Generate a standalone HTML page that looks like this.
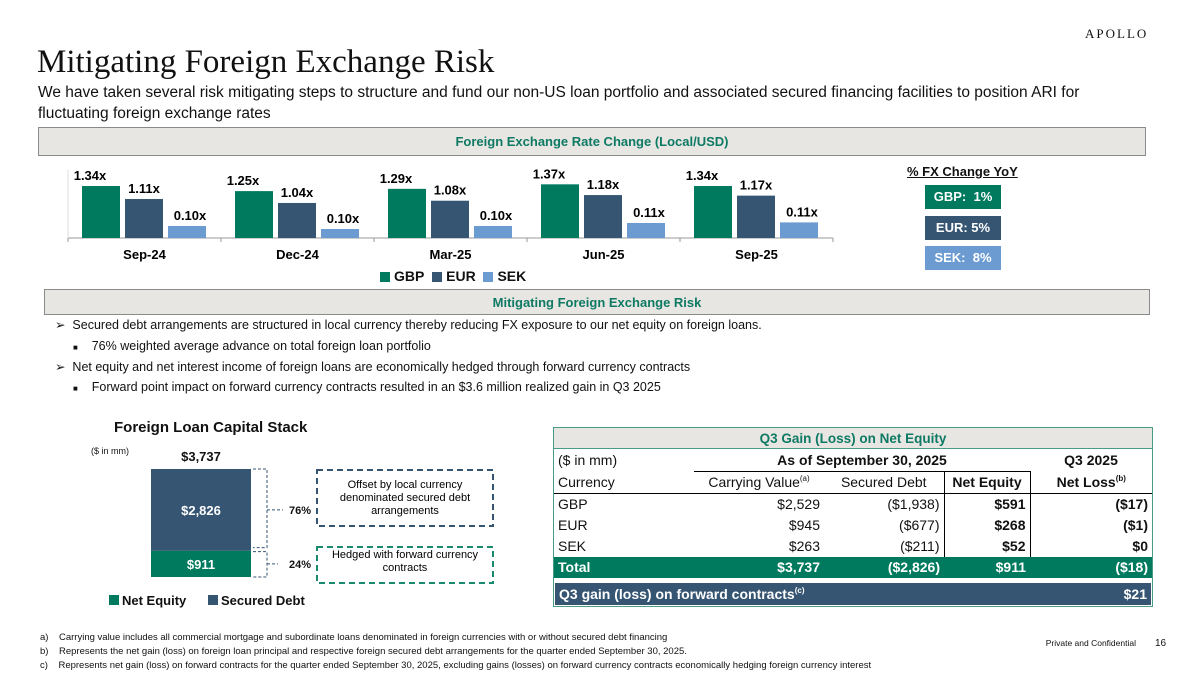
<!DOCTYPE html>
<html><head><meta charset="utf-8">
<style>
*{margin:0;padding:0;box-sizing:border-box}
body{width:1200px;height:675px;background:#fff;position:relative;overflow:hidden;font-family:"Liberation Sans",sans-serif;color:#111}
.a{position:absolute;white-space:nowrap}
.b{font-weight:bold}
.hdr{position:absolute;background:#e8e6e3;border:1px solid #8a8a8a;color:#0e7a63;font-weight:bold;font-size:13px;text-align:center}
.pill{position:absolute;width:76px;height:24px;color:#fff;font-weight:bold;font-size:13px;text-align:center;line-height:24px}
.sq{display:inline-block;width:10px;height:10px;vertical-align:-1px;margin-right:4px}
td{font-size:14px;padding:0 4px;height:21px;line-height:21px}
sup{font-size:8px;line-height:0;vertical-align:6px}
</style></head><body>
<div class="a" style="left:1085px;top:26px;font-family:'Liberation Serif',serif;font-size:13px;letter-spacing:2px">APOLLO</div>
<div class="a" style="left:37px;top:44px;font-family:'Liberation Serif',serif;font-size:33px">Mitigating Foreign Exchange Risk</div>
<div class="a" style="left:38px;top:82px;font-size:15.5px;line-height:21px;white-space:normal;width:1070px">We have taken several risk mitigating steps to structure and fund our non-US loan portfolio and associated secured financing facilities to position ARI for fluctuating foreign exchange rates</div>
<div class="hdr" style="left:38px;top:127px;width:1108px;height:29px;line-height:27px">Foreign Exchange Rate Change (Local/USD)</div>

<svg class="a" style="left:0;top:0" width="900" height="290" id="fx"></svg>

<div class="a b" style="left:907px;top:164px;font-size:13px;text-decoration:underline">% FX Change YoY</div>
<div class="pill" style="left:925px;top:185px;background:#007a5e">GBP:&nbsp; 1%</div>
<div class="pill" style="left:925px;top:216px;background:#365573">EUR: 5%</div>
<div class="pill" style="left:925px;top:246px;background:#6b9bd1">SEK:&nbsp; 8%</div>

<div class="a b" style="left:380px;top:268px;font-size:14px"><span class="sq" style="background:#007a5e"></span>GBP&nbsp;&nbsp;<span class="sq" style="background:#365573"></span>EUR&nbsp;&nbsp;<span class="sq" style="background:#6b9bd1"></span>SEK</div>

<div class="hdr" style="left:44px;top:289px;width:1106px;height:26px;line-height:25px">Mitigating Foreign Exchange Risk</div>

<div style="font-size:12.5px">
<div class="a" style="left:55px;top:317px">➢&nbsp;&nbsp;Secured debt arrangements are structured in local currency thereby reducing FX exposure to our net equity on foreign loans.</div>
<div class="a" style="left:73px;top:339px"><span style="font-size:8px">■</span>&nbsp;&nbsp;&nbsp;&nbsp;76% weighted average advance on total foreign loan portfolio</div>
<div class="a" style="left:55px;top:359px">➢&nbsp;&nbsp;Net equity and net interest income of foreign loans are economically hedged through forward currency contracts</div>
<div class="a" style="left:73px;top:380px"><span style="font-size:8px">■</span>&nbsp;&nbsp;&nbsp;&nbsp;Forward point impact on forward currency contracts resulted in an $3.6 million realized gain in Q3 2025</div>
</div>

<div class="a b" style="left:114px;top:419px;font-size:15px">Foreign Loan Capital Stack</div>
<div class="a" style="left:91px;top:446px;font-size:9px">($ in mm)</div>
<svg class="a" style="left:0;top:440px" width="540" height="175" id="cs"></svg>

<div class="a" style="left:553px;top:427px;width:600px;height:180px;border:1px solid #4a9a88">
<div style="background:#e8e6e3;height:21px;border-bottom:1px solid #4a9a88;text-align:center;color:#0e7a63;font-weight:bold;font-size:13.5px;line-height:21px">Q3 Gain (Loss) on Net Equity</div>
<table style="border-collapse:collapse;width:598px;margin-top:1px">
<tr><td style="width:140px">($ in mm)</td><td colspan="3" class="b" style="text-align:center;border-bottom:1px solid #000">As of September 30, 2025</td><td class="b" style="text-align:center">Q3 2025</td></tr>
<tr style="border-bottom:1px solid #000"><td>Currency</td><td style="text-align:center;width:130px">Carrying Value<sup>(a)</sup></td><td style="text-align:center;width:120px">Secured Debt</td><td class="b" style="text-align:center;width:86px;border:1px solid #000">Net Equity</td><td class="b" style="text-align:center">Net Loss<sup>(b)</sup></td></tr>
<tr><td>GBP</td><td style="text-align:right">$2,529</td><td style="text-align:right">($1,938)</td><td class="b" style="text-align:right;border-left:1px solid #000;border-right:1px solid #000">$591</td><td class="b" style="text-align:right">($17)</td></tr>
<tr><td>EUR</td><td style="text-align:right">$945</td><td style="text-align:right">($677)</td><td class="b" style="text-align:right;border-left:1px solid #000;border-right:1px solid #000">$268</td><td class="b" style="text-align:right">($1)</td></tr>
<tr><td>SEK</td><td style="text-align:right">$263</td><td style="text-align:right">($211)</td><td class="b" style="text-align:right;border-left:1px solid #000;border-right:1px solid #000">$52</td><td class="b" style="text-align:right">$0</td></tr>
<tr style="background:#007a5e;color:#fff;font-weight:bold"><td>Total</td><td style="text-align:right">$3,737</td><td style="text-align:right">($2,826)</td><td style="text-align:right">$911</td><td style="text-align:right">($18)</td></tr>
</table>
<div style="position:absolute;left:1px;top:155px;width:596px;height:22px;background:#365573;color:#fff;font-weight:bold;font-size:14px;line-height:22px;padding:0 4px">Q3 gain (loss) on forward contracts<sup>(c)</sup><span style="float:right">$21</span></div>
</div>

<div style="font-size:9.5px">
<div class="a" style="left:40px;top:632px">a)&nbsp;&nbsp;&nbsp;&nbsp;Carrying value includes all commercial mortgage and subordinate loans denominated in foreign currencies with or without secured debt financing</div>
<div class="a" style="left:40px;top:646px">b)&nbsp;&nbsp;&nbsp;&nbsp;Represents the net gain (loss) on foreign loan principal and respective foreign secured debt arrangements for the quarter ended September 30, 2025.</div>
<div class="a" style="left:40px;top:660px">c)&nbsp;&nbsp;&nbsp;&nbsp;Represents net gain (loss) on forward contracts for the quarter ended September 30, 2025, excluding gains (losses) on forward currency contracts economically hedging foreign currency interest</div>
</div>
<div class="a" style="right:64px;top:638px;font-size:8.5px">Private and Confidential</div>
<div class="a" style="left:1155px;top:638px;font-size:10px">16</div>

<script>
const categories=["Sep-24","Dec-24","Mar-25","Jun-25","Sep-25"];
const gbp=[1.34,1.25,1.29,1.37,1.34];
const eur=[1.11,1.04,1.08,1.18,1.17];
const sek=[0.102,0.097,0.102,0.107,0.108];
const NS="http://www.w3.org/2000/svg";
function mk(p,t,a){const e=document.createElementNS(NS,t);for(const k in a)e.setAttribute(k,a[k]);p.appendChild(e);return e;}
const fx=document.getElementById('fx');
const base=238,x0=68,gw=153;
const yP=v=>base-56.5*(v-0.42);
const yS=v=>base-600*(v-0.082);
const ax=mk(fx,'line',{x1:x0,y1:base,x2:x0+gw*5,y2:base,stroke:'#999'});

mk(fx,'line',{x1:x0,y1:170,x2:x0,y2:base,stroke:'#ddd'});
const series=[[gbp,'#007a5e',yP,'gbp'],[eur,'#365573',yP,'eur'],[sek,'#6b9bd1',yS,'sek']];
categories.forEach((c,i)=>{
  const gx=x0+gw*i;
  mk(fx,'line',{x1:gx,y1:base,x2:gx,y2:base+4,stroke:'#999'});
  const t=mk(fx,'text',{x:gx+gw/2,y:base+21,'text-anchor':'middle','font-size':13,'font-weight':'bold','font-family':'Liberation Sans'});
  t.textContent=c;
  
  series.forEach((s,j)=>{
    const v=s[0][i],y=s[2](v),bx=gx+14+j*43;
    const r=mk(fx,'rect',{x:bx,y:y,width:38,height:base-y,fill:s[1]});
    
    
    const l=mk(fx,'text',{x:bx+(j==0?8:j==2?22:19),y:y-6,'text-anchor':'middle','font-size':13,'font-weight':'bold','font-family':'Liberation Sans'});
    l.textContent=v.toFixed(2)+'x';
    
  });
  if(i==4)mk(fx,'line',{x1:gx+gw,y1:base,x2:gx+gw,y2:base+4,stroke:'#999'});
});

const stackCats=["Net Equity","Secured Debt"];
const stackVals=[911,2826];
const stackPct=["24%","76%"];
const cs=document.getElementById('cs');
const cb=577-440,total=stackVals[0]+stackVals[1],sc=108/total;
const eqTop=cb-stackVals[0]*sc,dTop=eqTop-stackVals[1]*sc;
let r=mk(cs,'rect',{x:151,y:eqTop,width:100,height:cb-eqTop,fill:'#007a5e'});

r=mk(cs,'rect',{x:151,y:dTop,width:100,height:eqTop-dTop,fill:'#365573'});

function tx(x,y,s,sz,col,anc,nm){const t=mk(cs,'text',{x:x,y:y,'font-size':sz,'font-weight':'bold',fill:col,'text-anchor':anc||'middle','font-family':'Liberation Sans'});t.textContent=s;return t;}
tx(201,dTop-8,'$'+total.toLocaleString(),13,'#111','middle','total-label');
tx(201,(dTop+eqTop)/2+5,'$'+stackVals[1].toLocaleString(),13,'#fff','middle','debt-label');
tx(201,(eqTop+cb)/2+5,'$'+stackVals[0].toLocaleString(),13,'#fff','middle','equity-label');
const dm=(dTop+eqTop)/2,em=(eqTop+cb)/2;
mk(cs,'path',{d:`M253 ${dTop}H267V${eqTop-3}H253M267 ${dm}H283`,fill:'none',stroke:'#365573','stroke-dasharray':'3,2'});
mk(cs,'path',{d:`M253 ${eqTop+1}H267V${cb}H253M267 ${em}H278`,fill:'none',stroke:'#365573','stroke-dasharray':'3,2'});
tx(300,dm+4,stackPct[1],11,'#111','middle','debt-pct');
tx(300,em+4,stackPct[0],11,'#111','middle','equity-pct');
mk(cs,'rect',{x:317,y:30,width:176,height:56,fill:'none',stroke:'#365573','stroke-width':2,'stroke-dasharray':'6,4'});
mk(cs,'rect',{x:317,y:107,width:176,height:36,fill:'none',stroke:'#1a8a6e','stroke-width':2,'stroke-dasharray':'6,4'});
[['Offset by local currency',48],['denominated secured debt',61],['arrangements',74],['Hedged with forward currency',118],['contracts',131]].forEach(a=>{
 const t=mk(cs,'text',{x:405,y:a[1],'font-size':11,'text-anchor':'middle','font-family':'Liberation Sans'});t.textContent=a[0];});
mk(cs,'rect',{x:109,y:155,width:10,height:10,fill:'#007a5e'});
tx(122,165,stackCats[0],13,'#111','start','legend-net-equity');
mk(cs,'rect',{x:208,y:155,width:10,height:10,fill:'#365573'});
tx(221,165,stackCats[1],13,'#111','start','legend-secured-debt');
</script>
</body></html>
